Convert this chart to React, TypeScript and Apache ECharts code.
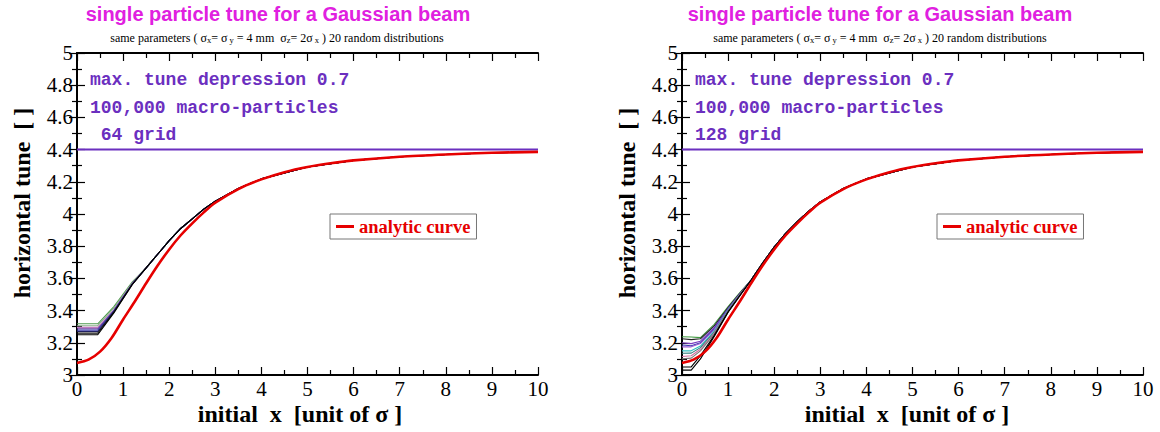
import React, { useEffect, useRef } from "react";
import * as echarts from "echarts";

// ---- data ----
const xTicks = [0, 1, 2, 3, 4, 5, 6, 7, 8, 9, 10];
const unperturbedX = [0, 10];
const unperturbedTune = [4.4, 4.4];

const xAnalytic = [0, 0.25, 0.5, 0.75, 1, 1.25, 1.5, 1.75, 2, 2.25, 2.5, 2.75, 3, 3.5, 4, 4.5, 5, 5.5, 6, 7, 8, 9, 10];
const analytic = [3.075, 3.095, 3.145, 3.23, 3.345, 3.455, 3.57, 3.68, 3.78, 3.868, 3.942, 4.01, 4.07, 4.155, 4.215, 4.26, 4.292, 4.315, 4.333, 4.356, 4.37, 4.38, 4.386];

// left panel (64 grid): x samples
const xSimLeft = [0, 0.45, 0.8, 1.2, 1.5, 1.75, 2, 2.25, 2.5, 2.75, 3, 3.5, 4, 5, 6, 7, 8, 9, 10];
const leftTail = [3.665, 3.75, 3.835, 3.91, 3.97, 4.03, 4.08, 4.158, 4.218, 4.292, 4.333, 4.356, 4.37, 4.38, 4.386];
const leftHeadGreen = [3.318, 3.318, 3.425, 3.578];
const leftHeadSage = [3.306, 3.306, 3.415, 3.572];
const leftHeadPink = [3.296, 3.296, 3.405, 3.57];
const leftHeadPurple = [3.287, 3.287, 3.4, 3.567];
const leftHeadBlue = [3.279, 3.279, 3.398, 3.566];
const leftHeadNavy = [3.27, 3.27, 3.394, 3.565];
const leftHeadBlack = [3.26, 3.26, 3.39, 3.563];
const leftHeadBlack2 = [3.25, 3.25, 3.386, 3.562];

// right panel (128 grid): x samples
const xSimRight = [0, 0.2, 0.4, 0.7, 1.0, 1.25, 1.5, 1.75, 2, 2.25, 2.5, 2.75, 3, 3.5, 4, 5, 6, 7, 8, 9, 10];
const rightTail = [3.59, 3.695, 3.795, 3.88, 3.952, 4.017, 4.075, 4.158, 4.218, 4.292, 4.333, 4.356, 4.37, 4.38, 4.386];
const rightHeadGreen = [3.238, 3.236, 3.232, 3.315, 3.425, 3.51];
const rightHeadBlackA = [3.225, 3.22, 3.225, 3.305, 3.418, 3.505];
const rightHeadPurple = [3.2, 3.195, 3.21, 3.295, 3.412, 3.502];
const rightHeadBlue = [3.186, 3.182, 3.2, 3.288, 3.41, 3.5];
const rightHeadViolet = [3.175, 3.175, 3.195, 3.282, 3.407, 3.5];
const rightHeadCyan = [3.15, 3.15, 3.18, 3.272, 3.403, 3.497];
const rightHeadTeal = [3.135, 3.136, 3.17, 3.266, 3.4, 3.496];
const rightHeadPink = [3.115, 3.12, 3.16, 3.26, 3.397, 3.495];
const rightHeadGray = [3.1, 3.105, 3.15, 3.256, 3.395, 3.494];
const rightHeadBlackB = [3.05, 3.05, 3.12, 3.246, 3.392, 3.492];
const rightHeadBlackC = [3.03, 3.03, 3.1, 3.24, 3.39, 3.49];

const leftSims = [
  { head: leftHeadGreen, color: "#4f9a4f" },
  { head: leftHeadSage, color: "#8aae8a" },
  { head: leftHeadPink, color: "#c07ac0" },
  { head: leftHeadPurple, color: "#6a3aa0" },
  { head: leftHeadBlue, color: "#3a3aa8" },
  { head: leftHeadNavy, color: "#202060" },
  { head: leftHeadBlack, color: "#111111" },
  { head: leftHeadBlack2, color: "#000000" },
];
const rightSims = [
  { head: rightHeadGreen, color: "#3f9a3f" },
  { head: rightHeadBlackA, color: "#222222" },
  { head: rightHeadPurple, color: "#7a3ac0" },
  { head: rightHeadBlue, color: "#3a3ab0" },
  { head: rightHeadViolet, color: "#9a5ad0" },
  { head: rightHeadCyan, color: "#30c0c0" },
  { head: rightHeadTeal, color: "#308080" },
  { head: rightHeadPink, color: "#d070a0" },
  { head: rightHeadGray, color: "#777777" },
  { head: rightHeadBlackB, color: "#000000" },
  { head: rightHeadBlackC, color: "#000000" },
];

const TITLE = "single particle tune for a Gaussian beam";
const PURPLE = "#6b2fbf";
const RED = "#e60000";
const MAGENTA = "#e020e0";

function zip(xs: number[], ys: number[]) {
  return xs.map((x, i) => [x, ys[i]]);
}

export default function App() {
  const ref = useRef<HTMLDivElement>(null);
  useEffect(() => {
    document.body.style.margin = "0";
    const chart = echarts.init(ref.current!, null, { renderer: "svg" });

    const grids = [
      { left: 77, top: 53, width: 461, height: 322 },
      { left: 682, top: 53, width: 461, height: 322 },
    ];

    const axisLine = { show: true, lineStyle: { color: "#000", width: 2 } };
    const xAxes: any[] = [];
    const yAxes: any[] = [];
    [0, 1].forEach((g) => {
      xAxes.push({
        type: "value", gridIndex: g, min: 0, max: 10, interval: 1, position: "bottom",
        axisLine, splitLine: { show: false },
        axisTick: { inside: true, length: 8, lineStyle: { color: "#000", width: 1.2 } },
        minorTick: { show: true, splitNumber: 2, length: 5, lineStyle: { color: "#000", width: 1.2 } },
        axisLabel: { color: "#000", fontFamily: "Liberation Serif", fontSize: 21, margin: 3,
          formatter: (v: number) => (xTicks.includes(v) ? String(v) : "") },
      });
      xAxes.push({
        type: "value", gridIndex: g, min: 0, max: 10, interval: 1, position: "top",
        axisLine, splitLine: { show: false },
        axisTick: { inside: true, length: 8, lineStyle: { color: "#000", width: 1.2 } },
        minorTick: { show: true, splitNumber: 2, length: 5, lineStyle: { color: "#000", width: 1.2 } },
        axisLabel: { show: false },
      });
      yAxes.push({
        type: "value", gridIndex: g, min: 3, max: 5, interval: 0.2, position: "left",
        axisLine, splitLine: { show: false },
        axisTick: { inside: true, length: 8, lineStyle: { color: "#000", width: 1.2 } },
        minorTick: { show: true, splitNumber: 2, length: 5, lineStyle: { color: "#000", width: 1.2 } },
        axisLabel: { color: "#000", fontFamily: "Liberation Serif", fontSize: 21, margin: 4,
          formatter: (v: number) => String(Math.round(v * 10) / 10) },
      });
      yAxes.push({
        type: "value", gridIndex: g, min: 3, max: 5, interval: 0.2, position: "right",
        axisLine, splitLine: { show: false },
        axisTick: { inside: true, length: 8, lineStyle: { color: "#000", width: 1.2 } },
        minorTick: { show: true, splitNumber: 2, length: 5, lineStyle: { color: "#000", width: 1.2 } },
        axisLabel: { show: false },
      });
    });

    const series: any[] = [];
    const panels = [
      { sims: leftSims, xs: xSimLeft, tail: leftTail },
      { sims: rightSims, xs: xSimRight, tail: rightTail },
    ];
    panels.forEach((p, g) => {
      p.sims.forEach((s, i) => {
        series.push({
          type: "line", name: `distribution ${i + 1}`, xAxisIndex: g * 2, yAxisIndex: g * 2,
          data: zip(p.xs, s.head.concat(p.tail)), showSymbol: false, symbol: "none",
          lineStyle: { color: s.color, width: 1.1 }, itemStyle: { color: s.color }, z: 2,
        });
      });
      series.push({
        type: "line", name: "unperturbed tune", xAxisIndex: g * 2, yAxisIndex: g * 2,
        data: zip(unperturbedX, unperturbedTune), symbol: "none",
        lineStyle: { color: PURPLE, width: 2 }, itemStyle: { color: PURPLE }, z: 3,
      });
      series.push({
        type: "line", name: "analytic curve", xAxisIndex: g * 2, yAxisIndex: g * 2,
        data: zip(xAnalytic, analytic), symbol: "none", smooth: 0.3,
        lineStyle: { color: RED, width: 2.6 }, itemStyle: { color: RED }, z: 4,
      });
    });

    const legendCommon = {
      data: ["analytic curve"], orient: "horizontal", icon: "rect", itemWidth: 18, itemHeight: 3,
      itemGap: 11, borderColor: "#777", borderWidth: 1, padding: [3, 6, 3, 6], backgroundColor: "#fff",
      textStyle: { color: RED, fontFamily: "Liberation Serif", fontWeight: "bold", fontSize: 18.5 },
      selectedMode: false,
    };

    const subRich = {
      n: { fontFamily: "Liberation Serif", fontSize: 12, color: "#000", lineHeight: 13, verticalAlign: "top" },
      s: { fontFamily: "Liberation Serif", fontSize: 8.5, color: "#000", lineHeight: 9, verticalAlign: "bottom", padding: [6, 0, 0, 0] },
    };
    const subText = (cx: number) => ({
      type: "text", x: cx, y: 38,
      style: {
        text: "{n|same parameters ( σ}{s|x}{n|= σ}{s| y}{n| = 4 mm  σ}{s|z}{n|= 2σ}{s| x}{n| ) 20 random distributions}",
        rich: subRich, align: "center", verticalAlign: "middle",
      },
    });
    const mono = (x: number, y: number, t: string) => ({
      type: "text", x, y,
      style: { text: t, fill: PURPLE, font: "bold 18px 'Liberation Mono'", align: "left", verticalAlign: "middle" },
    });
    const title = (cx: number) => ({
      type: "text", x: cx, y: 14,
      style: { text: TITLE, fill: MAGENTA, font: "bold 20px 'Liberation Sans'", align: "center", verticalAlign: "middle" },
    });
    const xName = (cx: number) => ({
      type: "text", x: cx, y: 414,
      style: { text: "initial  x  [unit of σ ]", fill: "#000", font: "bold 24px 'Liberation Serif'", align: "center", verticalAlign: "middle" },
    });
    const yName = (cx: number) => ({
      type: "text", x: cx, y: 203, rotation: Math.PI / 2,
      style: { text: "horizontal tune  [ ]", fill: "#000", font: "bold 24px 'Liberation Serif'", align: "center", verticalAlign: "middle" },
    });

    chart.setOption({
      animation: false,
      backgroundColor: "#fff",
      grid: grids,
      xAxis: xAxes,
      yAxis: yAxes,
      series,
      legend: [
        { ...legendCommon, left: 330, top: 214 },
        { ...legendCommon, left: 937, top: 214 },
      ],
      graphic: [
        title(278), title(880),
        subText(277), subText(880),
        mono(90, 80, "max. tune depression 0.7"),
        mono(90, 108, "100,000 macro-particles"),
        mono(90, 135, " 64 grid"),
        mono(695, 80, "max. tune depression 0.7"),
        mono(695, 108, "100,000 macro-particles"),
        mono(695, 135, "128 grid"),
        xName(300), xName(907),
        yName(22), yName(627),
      ],
    });
    return () => chart.dispose();
  }, []);
  return <div ref={ref} style={{ position: "absolute", left: 0, top: 0, width: 1160, height: 432 }} />;
}
